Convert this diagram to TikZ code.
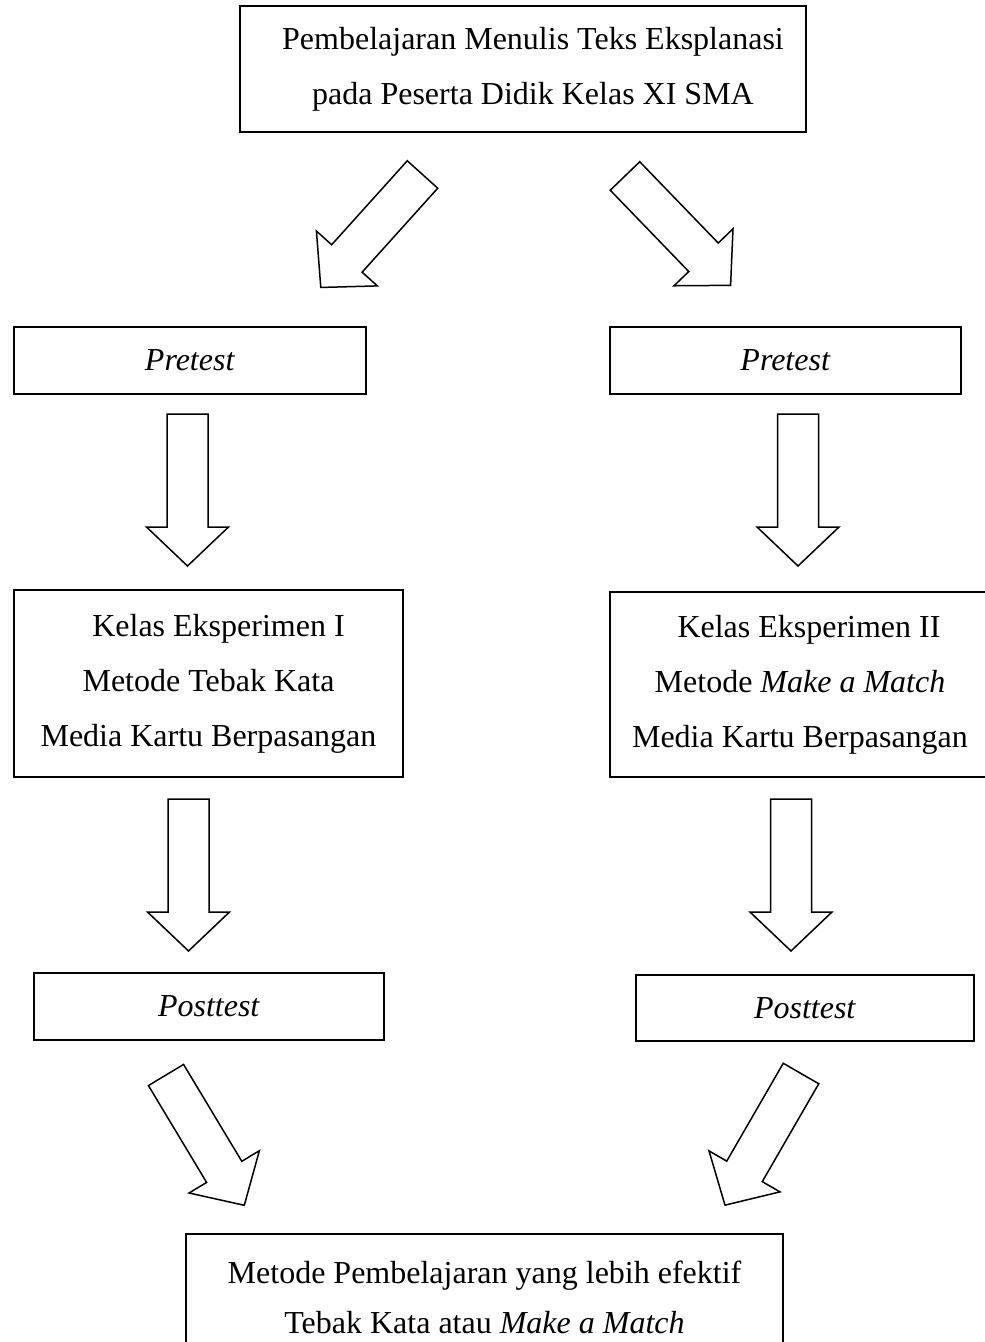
\documentclass[tikz,border=0pt]{standalone}
\usepackage{fontspec}
\setmainfont{Liberation Serif}
\usetikzlibrary{positioning}

\begin{document}
\begin{tikzpicture}[x=0.5pt, y=-0.5pt,
    box/.style={draw, line width=1pt, align=center, inner sep=0pt,
        font=\fontsize{16pt}{27.5pt}\selectfont},
    blkarrow/.pic={\draw[line width=0.75pt, line join=miter, fill=white]
        (-20.5,0) -- (20.5,0) -- (20.5,113) -- (41,113) -- (0,152)
        -- (-41,113) -- (-20.5,113) -- cycle;}]
    \useasboundingbox (0,0) rectangle (984,1342);
    \node[box, minimum width=283pt, minimum height=63pt] (topic) at (523,69)
        {\hspace*{10pt}Pembelajaran Menulis Teks Eksplanasi\\ \hspace*{10pt}pada Peserta Didik Kelas XI SMA};
    \node[box, minimum width=176pt, minimum height=33.5pt] (pre1) at (190,360.5) {\textit{Pretest}};
    \node[box, minimum width=175.5pt, minimum height=33.5pt] (pre2) at (785.5,360.5) {\textit{Pretest}};
    \node[box, minimum width=194.5pt, minimum height=93.5pt] (exp1) at (208.5,683.5)
        {\hspace*{10pt}Kelas Eksperimen I\\ Metode Tebak Kata\\ Media Kartu Berpasangan};
    \node[box, minimum width=190pt, minimum height=92.5pt] (exp2) at (800,684.5)
        {\hspace*{9pt}Kelas Eksperimen II\\ Metode \textit{Make a Match}\\ Media Kartu Berpasangan};
    \node[box, minimum width=175pt, minimum height=33.5pt] (post1) at (209,1006.5) {\textit{Posttest}};
    \node[box, minimum width=169pt, minimum height=33pt] (post2) at (805,1008) {\textit{Posttest}};
    \node[box, minimum width=298.5pt, minimum height=63pt] (result) at (484.5,1297)
        {Metode Pembelajaran yang lebih efektif\\[-2.5pt] Tebak Kata atau \textit{Make a Match}};
    \path
        (422.5,174.5) pic[rotate=-42] {blkarrow}
        (625,176) pic[rotate=44] {blkarrow}
        (187.5,414) pic {blkarrow}
        (798,414) pic {blkarrow}
        (188.5,799) pic {blkarrow}
        (791,799) pic {blkarrow}
        (166,1075) pic[rotate=31] {blkarrow}
        (801,1073.5) pic[rotate=-30] {blkarrow}
        ;
\end{tikzpicture}
\end{document}
